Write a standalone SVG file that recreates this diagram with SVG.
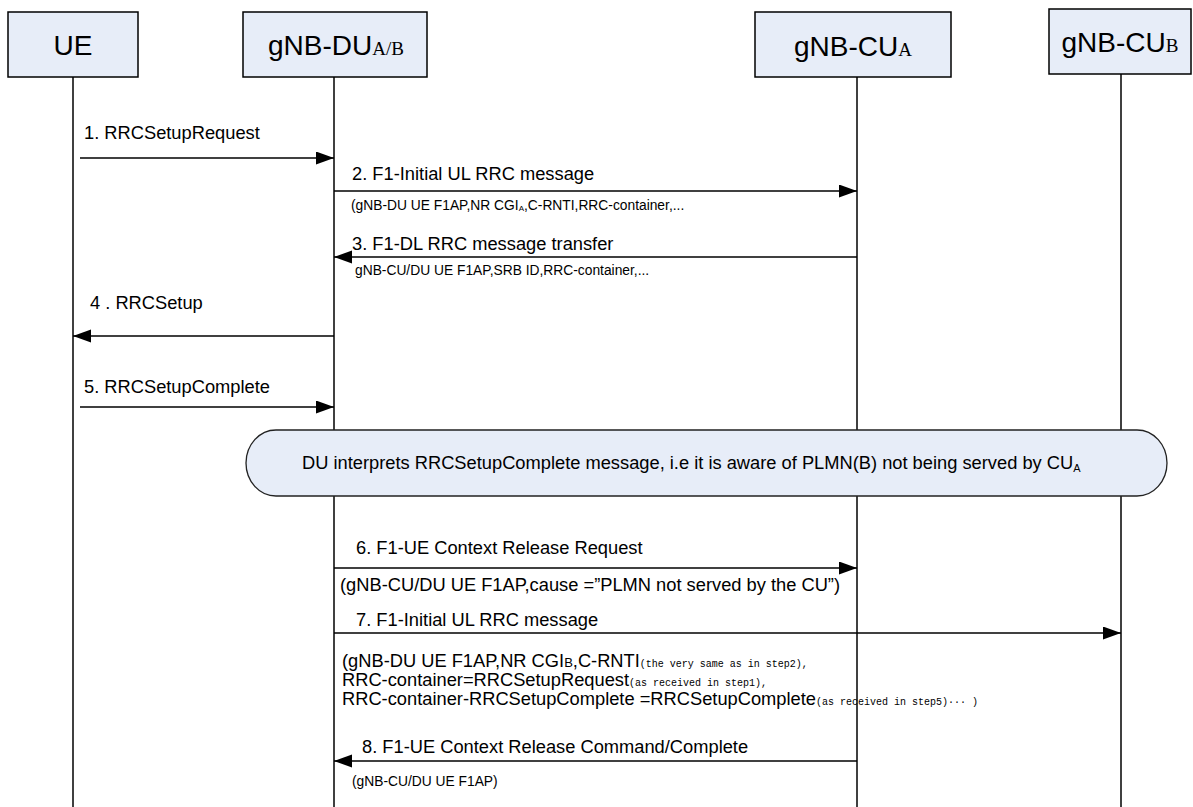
<svg xmlns="http://www.w3.org/2000/svg" width="1193" height="807" viewBox="0 0 1193 807">
<style>
  .box { fill: #E7EDF8; stroke: #000; stroke-width: 1.5; }
  .hdr { font-family: "Liberation Sans", Arial, sans-serif; font-size: 28px; fill: #000; }
  .hsub { font-family: "Liberation Serif", "Times New Roman", serif; font-size: 19px; }
  .life { stroke: #000; stroke-width: 1.5; fill: none; }
  .msg { stroke: #000; stroke-width: 1.5; fill: none; marker-end: url(#ah); }
  .lbl { font-family: "Liberation Sans", Arial, sans-serif; font-size: 18.3px; fill: #000; }
  .sm { font-family: "Liberation Sans", Arial, sans-serif; font-size: 13.8px; fill: #000; }
  .mono { font-family: "Liberation Mono", "Courier New", monospace; font-size: 10px; }
  .note { fill: #E7EDF8; stroke: #222; stroke-width: 1.3; }
</style>
<defs>
  <marker id="ah" markerUnits="userSpaceOnUse" markerWidth="19" markerHeight="14" refX="18" refY="6.5" orient="auto">
    <path d="M0,0 L18,6.5 L0,13 Z" fill="#000"/>
  </marker>
</defs>

<g id="node-ue">
  <rect class="box" x="8" y="12" width="130" height="65"/>
  <text class="hdr" x="73" y="55" text-anchor="middle">UE</text>
</g>
<g id="node-du">
  <rect class="box" x="243" y="12" width="184" height="65"/>
  <text class="hdr" x="336" y="55" text-anchor="middle">gNB-DU<tspan class="hsub">A/B</tspan></text>
</g>
<g id="node-cua">
  <rect class="box" x="755" y="12" width="196" height="65"/>
  <text class="hdr" x="853" y="56" text-anchor="middle">gNB-CU<tspan class="hsub">A</tspan></text>
</g>
<g id="node-cub">
  <rect class="box" x="1049" y="9" width="142" height="65"/>
  <text class="hdr" x="1120" y="52" text-anchor="middle">gNB-CU<tspan class="hsub">B</tspan></text>
</g>

<g id="lifelines">
  <line class="life" x1="73" y1="77" x2="73" y2="807"/>
  <line class="life" x1="334" y1="77" x2="334" y2="807"/>
  <line class="life" x1="857" y1="77" x2="857" y2="807"/>
  <line class="life" x1="1121" y1="74" x2="1121" y2="807"/>
</g>

<g id="note">
  <rect class="note" x="246" y="430" width="921" height="66" rx="30" ry="33"/>
  <text class="lbl" x="302" y="469" font-size="18.7px">DU interprets RRCSetupComplete message, i.e it is aware of PLMN(B) not being served by CU<tspan font-size="11px" dy="3">A</tspan></text>
</g>

<g id="connectors">
  <line class="msg" x1="80" y1="158" x2="334" y2="158"/>
  <line class="msg" x1="334" y1="191" x2="857" y2="191"/>
  <line class="msg" x1="857" y1="257" x2="334" y2="257"/>
  <line class="msg" x1="334" y1="336" x2="73" y2="336"/>
  <line class="msg" x1="80" y1="407" x2="334" y2="407"/>
  <line class="msg" x1="334" y1="568" x2="857" y2="568"/>
  <line class="msg" x1="334" y1="633" x2="1121" y2="633"/>
  <line class="msg" x1="857" y1="761" x2="334" y2="761"/>
</g>

<g id="labels">
  <text class="lbl" x="84" y="139">1. RRCSetupRequest</text>
  <text class="lbl" x="352" y="180">2. F1-Initial UL RRC message</text>
  <text class="sm" x="351" y="210">(gNB-DU UE F1AP,NR CGI<tspan font-size="8px" dy="1">A</tspan><tspan dy="-1">,C-RNTI,RRC-container,...</tspan></text>
  <text class="lbl" x="352" y="250">3. F1-DL RRC message transfer</text>
  <text class="sm" x="355" y="275">gNB-CU/DU UE F1AP,SRB ID,RRC-container,...</text>
  <text class="lbl" x="90" y="309">4 . RRCSetup</text>
  <text class="lbl" x="84" y="393">5. RRCSetupComplete</text>
  <text class="lbl" x="356" y="554">6. F1-UE Context Release Request</text>
  <text class="lbl" x="340" y="591">(gNB-CU/DU UE F1AP,cause =”PLMN not served by the CU”)</text>
  <text class="lbl" x="356" y="626">7. F1-Initial UL RRC message</text>
  <text class="lbl" x="342" y="667">(gNB-DU UE F1AP,NR CGI<tspan font-size="13px">B</tspan>,C-RNTI<tspan class="mono">(the very same as in step2),</tspan></text>
  <text class="lbl" x="342" y="686">RRC-container=RRCSetupRequest<tspan class="mono">(as received in step1),</tspan></text>
  <text class="lbl" x="342" y="705">RRC-container-RRCSetupComplete =RRCSetupComplete<tspan class="mono">(as received in step5)··· )</tspan></text>
  <text class="lbl" x="362" y="753">8. F1-UE Context Release Command/Complete</text>
  <text class="sm" x="352" y="786">(gNB-CU/DU UE F1AP)</text>
</g>
</svg>
